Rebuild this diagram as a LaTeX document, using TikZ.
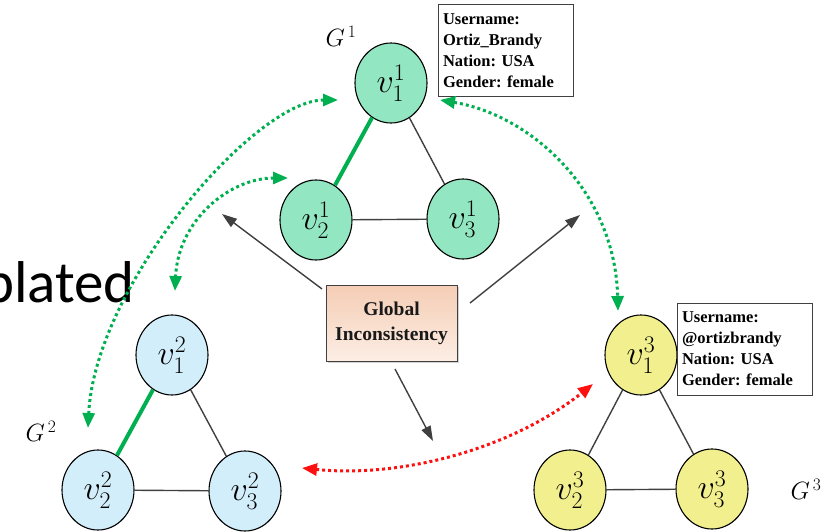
\RequirePackage{fix-cm}
\documentclass[tikz,border=0pt]{standalone}
\usepackage{fontspec}
\setmainfont{Liberation Serif}
\newfontfamily\slidefont{Carlito}
\usetikzlibrary{arrows.meta,shapes.geometric,shadows}
\frenchspacing

\definecolor{nodegreen}{HTML}{92E6C2}
\definecolor{nodeblue}{HTML}{D2EEFA}
\definecolor{nodeyellow}{HTML}{F2F08E}
\definecolor{linkgreen}{HTML}{00B050}
\definecolor{linkred}{HTML}{FF1010}
\definecolor{edgegray}{HTML}{404040}
\definecolor{boxtop}{HTML}{F5CDB5}
\definecolor{boxbottom}{HTML}{FCEEE4}

\tikzset{
  vert/.style={ellipse, draw=black, line width=1.1pt, minimum width=72pt,
    minimum height=80pt, inner sep=0pt, font=\fontsize{34}{34}\selectfont},
  plain edge/.style={draw=edgegray, line width=1.4pt},
  anchor edge/.style={draw=linkgreen, line width=4pt},
  glabel/.style={font=\fontsize{25}{25}\selectfont, inner sep=0pt},
  infobox/.style={draw=edgegray, fill=white, line width=1pt, align=left,
    text width=125pt, minimum height=92pt, inner xsep=5pt, inner ysep=0pt,
    font=\fontsize{16.5}{21}\selectfont\bfseries},
  centerbox/.style={draw=edgegray, line width=1pt, top color=boxtop,
    bottom color=boxbottom, minimum width=131pt, minimum height=76pt,
    align=center, font=\fontsize{19.5}{25}\selectfont\bfseries,
    text=black!90, drop shadow={shadow xshift=1.5pt, shadow yshift=-1.5pt,
    opacity=0.35}},
  pointer/.style={draw=edgegray, line width=1.4pt,
    -{Triangle[length=15pt,width=10pt]}},
  match/.style={line width=3pt, dash pattern=on 3pt off 3pt,
    {Triangle[length=15pt,width=12pt]}-{Triangle[length=15pt,width=12pt]}},
}

\begin{document}
\begin{tikzpicture}[x=1pt,y=-1pt]
\useasboundingbox (0,0) rectangle (825,532);
\clip (0,0) rectangle (825,532);

% partially visible slide text on the left
\node[anchor=base east, inner sep=0pt, font=\slidefont\fontsize{59}{59}\selectfont]
  (slide) at (135,302) {plated};

% graph G^1
\node[vert, fill=nodegreen] (v11) at (391,83) {$v_1^1$};
\node[vert, fill=nodegreen] (v12) at (316,220) {$v_2^1$};
\node[vert, fill=nodegreen] (v13) at (463,219) {$v_3^1$};
% graph G^2
\node[vert, fill=nodeblue] (v21) at (172,355) {$v_1^2$};
\node[vert, fill=nodeblue] (v22) at (98,490) {$v_2^2$};
\node[vert, fill=nodeblue] (v23) at (245,491) {$v_3^2$};
% graph G^3
\node[vert, fill=nodeyellow] (v31) at (641,355) {$v_1^3$};
\node[vert, fill=nodeyellow] (v32) at (570,490) {$v_2^3$};
\node[vert, fill=nodeyellow] (v33) at (712,489) {$v_3^3$};

% intra-graph edges
\draw[anchor edge] (v11) -- (v12);
\draw[plain edge] (v11) -- (v13);
\draw[plain edge] (v12) -- (v13);
\draw[anchor edge] (v21) -- (v22);
\draw[plain edge] (v21) -- (v23);
\draw[plain edge] (v22) -- (v23);
\draw[plain edge] (v31) -- (v32);
\draw[plain edge] (v31) -- (v33);
\draw[plain edge] (v32) -- (v33);

% graph names
\node[glabel] (g1) at (341,36) {$G^{\,1}$};
\node[glabel] (g2) at (41,431) {$G^{\,2}$};
\node[glabel] (g3) at (806,489) {$G^{\,3}$};

% user profiles
\node[infobox] (p1) at (505.5,51) {Username:\\Ortiz\_Brandy\\Nation: USA\\Gender: female};
\node[infobox] (p3) at (744.5,349) {Username:\\@ortizbrandy\\Nation: USA\\Gender: female};

% central block and its pointers
\node[centerbox] (gi) at (391.5,323) {Global\\Inconsistency};
\coordinate (s1) at (322,289);
\coordinate (t1) at (222,214);
\coordinate (s2) at (470,303);
\coordinate (t2) at (580,215);
\coordinate (s3) at (395,369);
\coordinate (t3) at (433,441);
\draw[pointer] (s1) -- (t1);
\draw[pointer] (s2) -- (t2);
\draw[pointer] (s3) -- (t3);

% cross-graph correspondences
\coordinate (a1) at (338,100);
\coordinate (a2) at (88,428);
\draw[match, linkgreen] (a1) .. controls (255,100) and (95,285) .. (a2);
\coordinate (b1) at (288,178);
\coordinate (b2) at (175,291);
\draw[match, linkgreen] (b1) .. controls (230,178) and (178,220) .. (b2);
\coordinate (c1) at (440,100);
\coordinate (c2) at (618,311);
\draw[match, linkgreen] (c1) .. controls (530,115) and (615,190) .. (c2);
\coordinate (d1) at (302,468);
\coordinate (d2) at (593,384);
\draw[match, linkred] (d1) .. controls (400,478) and (510,450) .. (d2);
\end{tikzpicture}
\end{document}
